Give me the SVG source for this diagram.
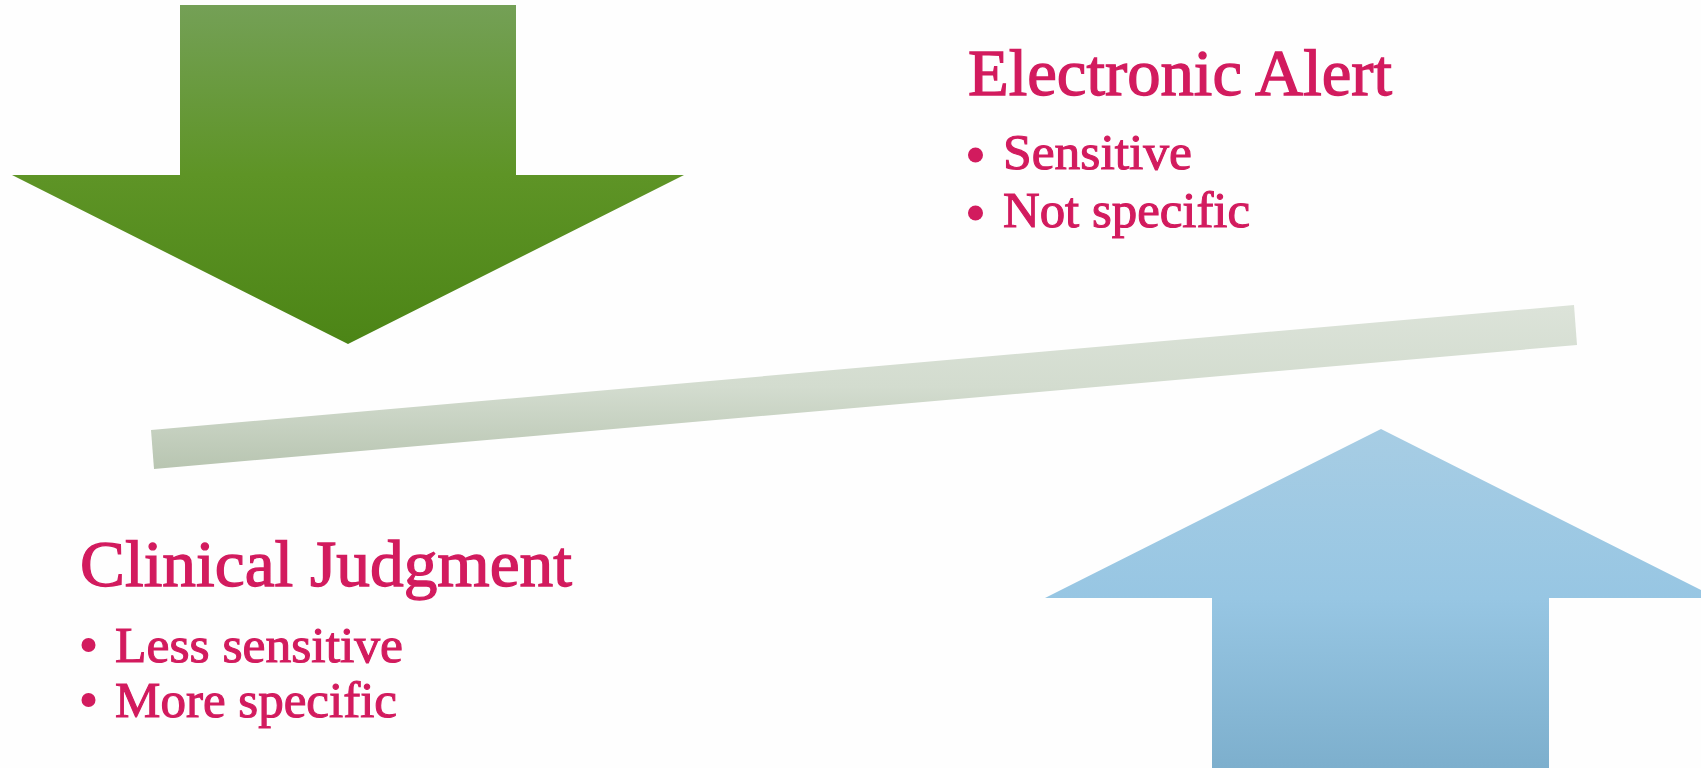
<svg xmlns="http://www.w3.org/2000/svg" width="1701" height="768" viewBox="0 0 1701 768">
  <defs>
    <linearGradient id="gGreen" x1="0" y1="0" x2="0" y2="1">
      <stop offset="0" stop-color="#74a056"/>
      <stop offset="0.5" stop-color="#5e9426"/>
      <stop offset="1" stop-color="#4c8516"/>
    </linearGradient>
    <linearGradient id="gBlue" x1="0" y1="0" x2="0" y2="1">
      <stop offset="0" stop-color="#a7cde4"/>
      <stop offset="0.5" stop-color="#97c6e3"/>
      <stop offset="1" stop-color="#7dafcd"/>
    </linearGradient>
    <linearGradient id="gBar" x1="0" y1="0" x2="0" y2="1">
      <stop offset="0" stop-color="#dce3d9"/>
      <stop offset="0.5" stop-color="#d3dccf"/>
      <stop offset="1" stop-color="#b8c5b1"/>
    </linearGradient>
    <style>
      .title { font-family: "Liberation Serif", "DejaVu Serif", serif; font-size: 66px; fill: #d21b5e; stroke: #d21b5e; stroke-width: 1.3px; }
      .item { font-family: "Liberation Serif", "DejaVu Serif", serif; font-size: 51px; fill: #d21b5e; stroke: #d21b5e; stroke-width: 1.1px; }
      .dot { fill: #d21b5e; }
    </style>
  </defs>

  <rect width="1701" height="768" fill="#fefefe"/>

  <!-- downward pressure arrow -->
  <g id="arrow-down">
    <polygon points="180,5 516,5 516,175 684,175 348,344 12,175 180,175" fill="url(#gGreen)"/>
  </g>

  <!-- tilted balance beam -->
  <g id="beam">
    <polygon points="151,430 1574,305 1577,345 154,469" fill="url(#gBar)"/>
  </g>

  <!-- upward pressure arrow -->
  <g id="arrow-up">
    <polygon points="1381,429 1717,598 1549,598 1549,768 1212,768 1212,598 1045,598" fill="url(#gBlue)"/>
  </g>

  <g id="electronic-alert">
    <text class="title" x="968" y="94.5" textLength="424" lengthAdjust="spacingAndGlyphs">Electronic Alert</text>
    <circle class="dot" cx="975.5" cy="155" r="7.5"/>
    <text class="item" x="1003" y="169" textLength="189" lengthAdjust="spacingAndGlyphs">Sensitive</text>
    <circle class="dot" cx="975.5" cy="213" r="7.5"/>
    <text class="item" x="1003" y="227" textLength="247" lengthAdjust="spacingAndGlyphs">Not specific</text>
  </g>

  <g id="clinical-judgment">
    <text class="title" x="80" y="585.5" textLength="492" lengthAdjust="spacingAndGlyphs">Clinical Judgment</text>
    <circle class="dot" cx="88.5" cy="645" r="7"/>
    <text class="item" x="115" y="662" textLength="288" lengthAdjust="spacingAndGlyphs">Less sensitive</text>
    <circle class="dot" cx="88.5" cy="700" r="7"/>
    <text class="item" x="115" y="717" textLength="282" lengthAdjust="spacingAndGlyphs">More specific</text>
  </g>

  <g id="connectors"/>
</svg>
